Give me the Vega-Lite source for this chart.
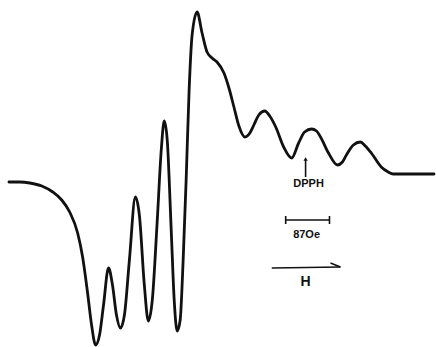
{
  "$schema": "https://vega.github.io/schema/vega-lite/v6.json",
  "width": 436,
  "height": 347,
  "autosize": {"type": "fit", "contains": "padding"},
  "padding": 0,
  "background": "white",
  "config": {"view": {"stroke": null}},
  "datasets": {
    "spectrum": [
      {"field": 9, "signal": -6}, {"field": 20, "signal": -6}, {"field": 30, "signal": -7},
      {"field": 42, "signal": -10}, {"field": 53, "signal": -16}, {"field": 62, "signal": -24},
      {"field": 70, "signal": -36}, {"field": 78, "signal": -57}, {"field": 83, "signal": -81},
      {"field": 88, "signal": -117}, {"field": 92, "signal": -149}, {"field": 96, "signal": -169},
      {"field": 100, "signal": -159}, {"field": 104, "signal": -129}, {"field": 109, "signal": -92},
      {"field": 113, "signal": -109}, {"field": 117, "signal": -139}, {"field": 121, "signal": -152},
      {"field": 125, "signal": -139}, {"field": 130, "signal": -84}, {"field": 136, "signal": -21},
      {"field": 140, "signal": -39}, {"field": 145, "signal": -109}, {"field": 149, "signal": -145},
      {"field": 153, "signal": -124}, {"field": 158, "signal": -44}, {"field": 162, "signal": 26},
      {"field": 165, "signal": 55}, {"field": 168, "signal": 36}, {"field": 172, "signal": -54},
      {"field": 175, "signal": -124}, {"field": 178, "signal": -155}, {"field": 181, "signal": -144},
      {"field": 184, "signal": -84}, {"field": 187, "signal": -4}, {"field": 190, "signal": 86},
      {"field": 193, "signal": 141}, {"field": 198, "signal": 164}, {"field": 203, "signal": 143},
      {"field": 208, "signal": 124}, {"field": 213, "signal": 118}, {"field": 218, "signal": 114},
      {"field": 225, "signal": 103}, {"field": 230, "signal": 88}, {"field": 235, "signal": 69},
      {"field": 240, "signal": 50}, {"field": 246, "signal": 39}, {"field": 251, "signal": 43},
      {"field": 255, "signal": 51}, {"field": 260, "signal": 61}, {"field": 266, "signal": 65},
      {"field": 271, "signal": 60}, {"field": 277, "signal": 49}, {"field": 285, "signal": 29},
      {"field": 293, "signal": 18}, {"field": 300, "signal": 33}, {"field": 306, "signal": 44},
      {"field": 313, "signal": 47}, {"field": 318, "signal": 45}, {"field": 322, "signal": 39},
      {"field": 330, "signal": 23}, {"field": 339, "signal": 11}, {"field": 344, "signal": 14},
      {"field": 348, "signal": 21}, {"field": 355, "signal": 31}, {"field": 362, "signal": 34},
      {"field": 367, "signal": 30}, {"field": 373, "signal": 23}, {"field": 383, "signal": 9},
      {"field": 390, "signal": 4}, {"field": 395, "signal": 2}, {"field": 410, "signal": 2},
      {"field": 436, "signal": 2}
    ],
    "segments": [
      {"x": 307, "y": -1, "x2": 307, "y2": 16},
      {"x": 287, "y": -44, "x2": 331, "y2": -44},
      {"x": 287, "y": -40, "x2": 287, "y2": -48},
      {"x": 331, "y": -40, "x2": 331, "y2": -48},
      {"x": 273, "y": -92, "x2": 342, "y2": -91},
      {"x": 342, "y": -91, "x2": 332, "y2": -87}
    ],
    "heads": [{"x": 307, "y": 17}],
    "labels": [
      {"x": 310, "y": -8, "text": "DPPH", "size": 11},
      {"x": 308, "y": -59, "text": "87Oe", "size": 11},
      {"x": 307, "y": -106, "text": "H", "size": 14}
    ]
  },
  "layer": [
    {
      "data": {"name": "spectrum"},
      "mark": {"type": "line", "interpolate": "monotone", "color": "#111", "strokeWidth": 2.8, "strokeJoin": "round", "strokeCap": "round"},
      "encoding": {
        "x": {"field": "field", "type": "quantitative", "scale": {"domain": [0, 436], "nice": false, "zero": false}, "axis": null},
        "y": {"field": "signal", "type": "quantitative", "scale": {"domain": [-171, 176], "nice": false, "zero": false}, "axis": null}
      }
    },
    {
      "data": {"name": "segments"},
      "mark": {"type": "rule", "color": "#111", "strokeWidth": 1.6},
      "encoding": {
        "x": {"field": "x", "type": "quantitative"},
        "y": {"field": "y", "type": "quantitative"},
        "x2": {"field": "x2"},
        "y2": {"field": "y2"}
      }
    },
    {
      "data": {"name": "heads"},
      "mark": {"type": "point", "shape": "triangle-up", "filled": true, "color": "#111", "size": 18, "opacity": 1},
      "encoding": {
        "x": {"field": "x", "type": "quantitative"},
        "y": {"field": "y", "type": "quantitative"}
      }
    },
    {
      "data": {"name": "labels"},
      "mark": {"type": "text", "font": "Liberation Sans", "fontWeight": "bold", "color": "#111", "align": "center", "baseline": "middle"},
      "encoding": {
        "x": {"field": "x", "type": "quantitative"},
        "y": {"field": "y", "type": "quantitative"},
        "text": {"field": "text"},
        "size": {"field": "size", "type": "quantitative", "scale": null}
      }
    }
  ]
}
